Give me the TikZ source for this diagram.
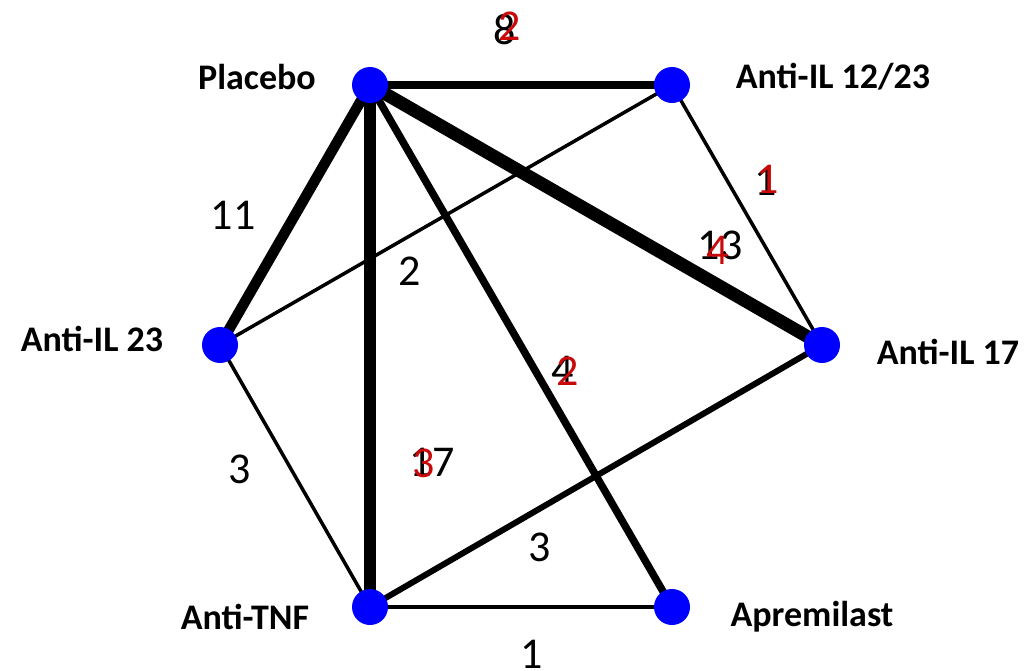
\documentclass[tikz,border=0pt]{standalone}
\usepackage{fontspec}
\setmainfont{Carlito}
\begin{document}
\begin{tikzpicture}[x=1pt,y=-1pt,
  vtx/.style={circle,fill=blue,draw=none,minimum size=36pt,inner sep=0pt},
  lab/.style={font=\fontsize{36}{40}\selectfont\bfseries,inner sep=0pt},
  num/.style={font=\fontsize{44}{50}\selectfont,inner sep=0pt},
  rnum/.style={num,text={rgb,255:red,200;green,10;blue,10}}]
\useasboundingbox (0,0) rectangle (1025,671);
\coordinate (pP) at (370,85);
\coordinate (p12) at (672,85);
\coordinate (p23) at (220,345);
\coordinate (p17) at (822,345);
\coordinate (pT) at (370,607);
\coordinate (pA) at (672,607);
% edges
\draw[line width=3.5pt] (p12) -- (p23);
\draw[line width=3.5pt] (p12) -- (p17);
\draw[line width=3.5pt] (p23) -- (pT);
\draw[line width=3.5pt] (pT) -- (pA);
\draw[line width=6pt] (p17) -- (pT);
\draw[line width=7.5pt] (pP) -- (pA);
\draw[line width=8.5pt] (pP) -- (p12);
\draw[line width=10.5pt] (pP) -- (p23);
\draw[line width=12pt] (pP) -- (pT);
\draw[line width=13pt] (pP) -- (p17);
% vertices
\node[vtx] (P) at (pP) {};
\node[vtx] (I12) at (p12) {};
\node[vtx] (I23) at (p23) {};
\node[vtx] (I17) at (p17) {};
\node[vtx] (T) at (pT) {};
\node[vtx] (A) at (pA) {};
% labels
\node[lab] (lP) at (257,77) {Placebo};
\node[lab] (l12) at (833,77) {Anti-IL 12/23};
\node[lab] (l23) at (92,339) {Anti-IL 23};
\node[lab] (l17) at (948,352) {Anti-IL 17};
\node[lab] (lT) at (245,617) {Anti-TNF};
\node[lab] (lA) at (812,617) {Apremilast};
% numbers
\node[num] (n1) at (505,30) {8};
\node[rnum] (r1) at (510,26) {2};
\node[num] (n2) at (766,181) {1};
\node[rnum] (r2) at (768,179) {1};
\node[num] (n3) at (720,245) {13};
\node[rnum] (r3) at (718,250) {4};
\node[num] (n4) at (233,215) {11};
\node[num] (n5) at (410,271) {2};
\node[num] (n6) at (563,370) {4};
\node[rnum] (r6) at (568,371) {2};
\node[num] (n7) at (432,462) {17};
\node[rnum] (r7) at (424,463) {3};
\node[num] (n8) at (240,469) {3};
\node[num] (n9) at (540,547) {3};
\node[num] (n10) at (532,654) {1};
\end{tikzpicture}
\end{document}
